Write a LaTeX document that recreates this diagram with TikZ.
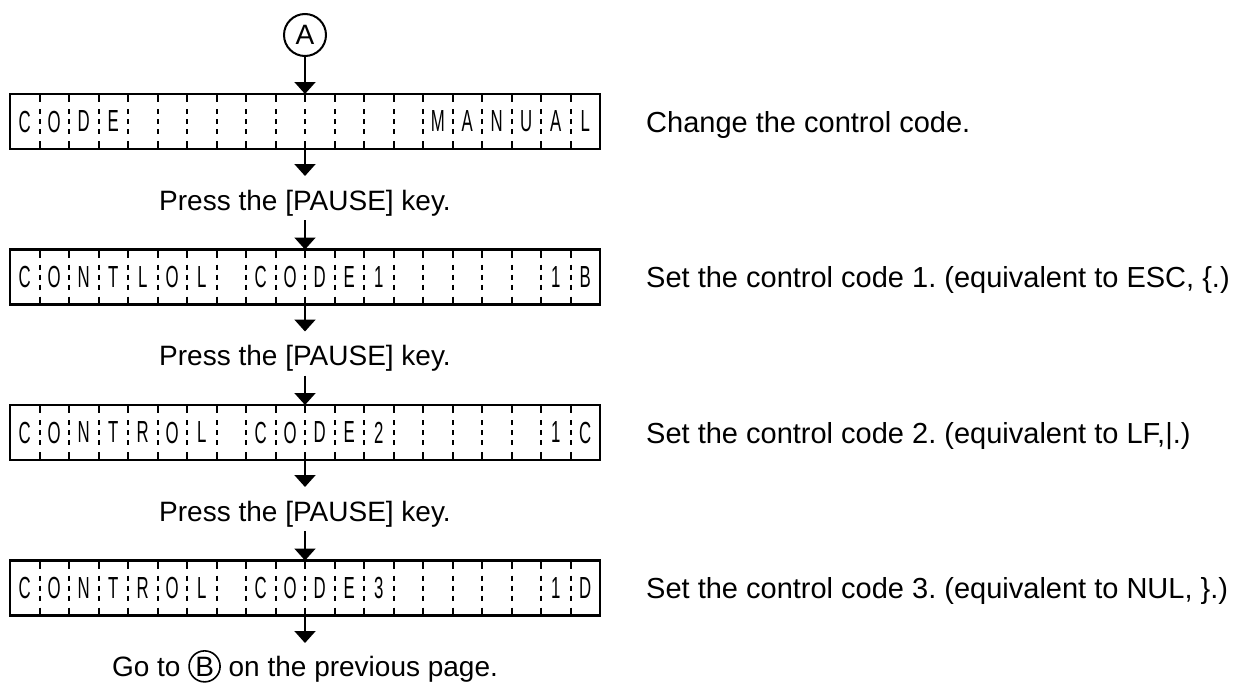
\documentclass[tikz,border=0pt]{standalone}
\usepackage{fontspec}
\setmainfont{Liberation Sans}
\usetikzlibrary{arrows.meta,calc}
\frenchspacing
\newcommand\txtsize{\fontsize{29}{34}\selectfont}
\newcommand\midsize{\fontsize{28}{34}\selectfont}
\newcommand\lcdsize{\fontsize{30.5}{34}\selectfont}
\newcommand\circledB{\tikz[baseline=(cbB.base)]\node[circle,draw,line width=1.6pt,minimum size=31pt,inner sep=0pt](cbB){B};}
\tikzset{
  flowarrow/.style={line width=2pt,-{Triangle[width=21pt,length=12pt]}},
  lcdbox/.style={draw,line width=2.5pt,minimum width=590pt,minimum height=55pt,inner sep=0pt,outer sep=0pt},
  lcddiv/.style={line width=2pt,dash pattern=on 8pt off 7pt on 5pt off 5pt on 5pt off 5pt on 5pt off 7pt on 8pt off 100pt},
  lcdchar/.style={inner sep=0pt,font=\lcdsize},
  note/.style={anchor=base west,inner sep=0pt,font=\txtsize},
  presstext/.style={anchor=base,inner sep=0pt,outer sep=0pt,font=\midsize,text height=34pt,text depth=10pt},
  conn/.style={circle,draw,line width=2pt,minimum size=42pt,inner sep=0pt,outer sep=0pt,font=\midsize},
}
\newcommand\lcdrow[3]{%
  \node[lcdbox] (#1) at (305,#2) {};
  \foreach \ch [count=\i] in {#3} {
    \node[lcdchar] (#1c\i) at ($(#1.west)+(\i*29.5-14.75,0)$) {\scalebox{0.55}[1]{\ch}};
  }
  \foreach \i in {1,...,19} {
    \draw[lcddiv] ($(#1.north west)+(\i*29.5,0)$) -- ($(#1.south west)+(\i*29.5,0)$);
  }
}
\begin{document}
\begin{tikzpicture}[x=1pt,y=-1pt]
\fill[white] (0,0) rectangle (1244,688);
\useasboundingbox (0,0) rectangle (1244,688);
\node[conn] (cA) at (305,35) {A};
\lcdrow{b1}{121.5}{C,O,D,E,{},{},{},{},{},{},{},{},{},{},M,A,N,U,A,L}
\lcdrow{b2}{277}{C,O,N,T,L,O,L,{},C,O,D,E,1,{},{},{},{},{},1,B}
\lcdrow{b3}{432.5}{C,O,N,T,R,O,L,{},C,O,D,E,2,{},{},{},{},{},1,C}
\lcdrow{b4}{588}{C,O,N,T,R,O,L,{},C,O,D,E,3,{},{},{},{},{},1,D}
\node[presstext] (p1) at (305,210) {Press the [PAUSE] key.};
\node[presstext] (p2) at (305,365.5) {Press the [PAUSE] key.};
\node[presstext] (p3) at (305,521) {Press the [PAUSE] key.};
\node[presstext,text height=33pt] (go) at (305,676) {Go to \circledB{} on the previous page.};
\node[note] (s1) at (646,132) {Change the control code.};
\node[note] (s2) at (646,287.5) {Set the control code 1. (equivalent to ESC, \{.)};
\node[note] (s3) at (646,443) {Set the control code 2. (equivalent to LF,|.)};
\node[note] (s4) at (646,598.5) {Set the control code 3. (equivalent to NUL, \}.)};
\draw[flowarrow] (cA) -- (b1);
\draw[flowarrow] (b1) -- (p1);
\draw[flowarrow] (p1) -- (b2);
\draw[flowarrow] (b2) -- (p2);
\draw[flowarrow] (p2) -- (b3);
\draw[flowarrow] (b3) -- (p3);
\draw[flowarrow] (p3) -- (b4);
\draw[flowarrow] (b4) -- (go);
\end{tikzpicture}
\end{document}
